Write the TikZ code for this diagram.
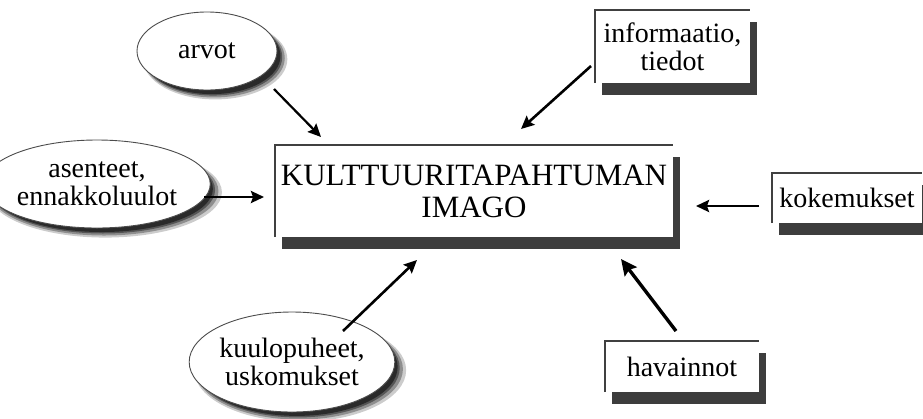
\documentclass[tikz,border=0pt]{standalone}
\usepackage{fontspec}
\setmainfont{Liberation Serif}
\usetikzlibrary{arrows.meta,shapes.geometric,shadows}
\begin{document}
\begin{tikzpicture}[x=1pt,y=-1pt,
  smalltext/.style={font=\fontsize{28}{29}\selectfont},
  ell/.style={ellipse, draw=black!70, line width=0.9pt, fill=white, inner sep=0pt, align=center, smalltext,
    general shadow={shadow xshift=8pt, shadow yshift=-8pt, shadow scale=1.03, fill=black, opacity=.2},
    general shadow={shadow xshift=7pt, shadow yshift=-7pt, shadow scale=1.01, fill=black, opacity=.3},
    general shadow={shadow xshift=6pt, shadow yshift=-6pt, shadow scale=0.99, fill=black, opacity=.4},
    general shadow={shadow xshift=5pt, shadow yshift=-5pt, shadow scale=0.98, fill=black, opacity=.5}},
  boxn/.style={rectangle, fill=white, inner sep=0pt, align=center, smalltext,
    general shadow={shadow xshift=6.5pt, shadow yshift=-11.5pt, fill=black!76, opacity=1}},
  boxline/.style={draw=black!75, line width=1.6pt},
  arr/.style={-{Stealth[length=13pt,width=12pt,inset=2pt]}, line width=2.6pt},
  arrb/.style={-{Stealth[length=16pt,width=15pt,inset=2.5pt]}, line width=3.4pt}]
\useasboundingbox (0,0) rectangle (923,418);

% ellipses
\node[ell, minimum width=140, minimum height=78] (arvot) at (207,51) {arvot};
\node[ell, minimum width=178, minimum height=88] (asenteet) at (97,184) {asenteet,\\[-1pt]ennakkoluulot};
\node[ell, minimum width=170, minimum height=100] (kuulo) at (292,362) {kuulopuheet,\\[-1pt]uskomukset};

% boxes
\node[boxn, minimum width=398, minimum height=92, font=\fontsize{31}{32}\selectfont] (main) at (474,191) {KULTTUURITAPAHTUMAN\\IMAGO};
\node[boxn, minimum width=155, minimum height=73] (info) at (672.5,46.5) {informaatio,\\[-1pt]tiedot};
\node[boxn, minimum width=150, minimum height=50] (koke) at (847,198) {kokemukset};
\node[boxn, minimum width=154, minimum height=51] (hava) at (682,366.5) {havainnot};

\foreach \n in {main,info,koke,hava}
  \draw[boxline] (\n.south west) -- (\n.north west) -- (\n.north east);

% arrow end points
\coordinate (a1s) at (274,89);   \coordinate (a1e) at (321,137);
\coordinate (a2s) at (591,66);   \coordinate (a2e) at (521,129);
\coordinate (a3s) at (204,197);  \coordinate (a3e) at (264,197);
\coordinate (a4s) at (759,206);  \coordinate (a4e) at (696,206);
\coordinate (a5s) at (343,331);  \coordinate (a5e) at (417,260);
\coordinate (a6s) at (676,331);  \coordinate (a6e) at (621,259);

\draw[arr, line width=2.2pt] (a1s) -- (a1e);
\draw[arr] (a2s) -- (a2e);
\draw[arr] (a3s) -- (a3e);
\draw[arr] (a4s) -- (a4e);
\draw[arr] (a5s) -- (a5e);
\draw[arrb] (a6s) -- (a6e);
\end{tikzpicture}
\end{document}
